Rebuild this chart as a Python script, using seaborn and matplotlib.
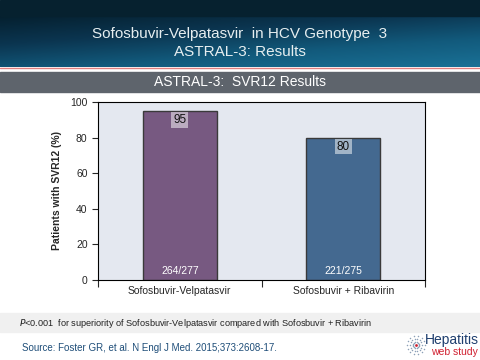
import matplotlib
matplotlib.use("Agg")
import matplotlib.pyplot as plt
import seaborn as sns
import numpy as np
import pandas as pd

# data
regimens = ["Sofosbuvir-Velpatasvir", "Sofosbuvir + Ribavirin"]
svr12 = [95, 80]
counts = ["264/277", "221/275"]
bar_colors = ["#7A5288", "#37699D"]

df = pd.DataFrame({"Regimen": regimens, "SVR12": svr12})

sns.set_style("white")
plt.rcParams["font.family"] = ["Liberation Sans", "DejaVu Sans"]

fig = plt.figure(figsize=(4.8, 3.6), dpi=100)

# background / header
bg = fig.add_axes([0, 0, 1, 1])
bg.set_xlim(0, 480)
bg.set_ylim(360, 0)
bg.axis("off")
hdr = np.linspace(0, 1, 100).reshape(-1, 1) * 0.6 + np.linspace(0, 1, 200).reshape(1, -1) * 0.4
bg.imshow(hdr, cmap=matplotlib.colors.LinearSegmentedColormap.from_list(
    "hdr", ["#05202F", "#0B3550", "#125A7C", "#1A7196"]), extent=[0, 480, 67, 16], aspect="auto")
bg.add_patch(plt.Rectangle((0, 0), 480, 16, color="#06212F"))
bg.plot([0, 480], [68, 68], color="#E08080", lw=1)
bg.add_patch(plt.Rectangle((0, 72), 480, 20, color="#5E646C"))
bg.add_patch(plt.Rectangle((0, 313), 480, 19, color="#F0F0F0"))
bg.text(240, 34, "Sofosbuvir-Velpatasvir  in HCV Genotype  3", color="#E6EEF0", fontsize=11, ha="center", va="center")
bg.text(240, 52, "ASTRAL-3: Results", color="#E6EEF0", fontsize=11, ha="center", va="center")
bg.text(240, 82, "ASTRAL-3:  SVR12 Results", color="white", fontsize=10, ha="center", va="center")
bg.text(19, 323, "$\\it{P}$<0.001  for superiority of Sofosbuvir-Velpatasvir compared with Sofosbuvir + Ribavirin",
        color="#222222", fontsize=6.6, ha="left", va="center")
bg.text(22, 348, "Source: Foster GR, et al. N Engl J Med. 2015;373:2608-17.",
        color="#1F4E79", fontsize=7, ha="left", va="center")
bg.text(425, 340, "Hepatitis", color="#1F3F6F", fontsize=10, ha="left", va="center")
bg.text(431, 352, "web study", color="#D02030", fontsize=7.5, ha="left", va="center")
ang = np.linspace(0, 2 * np.pi, 14, endpoint=False)
for r in [3, 6, 9]:
    bg.scatter(416 + r * np.cos(ang), 345 + r * np.sin(ang), s=1.2, color="#8CA0B8", lw=0)
bg.scatter([416], [345], s=4, color="#D02030", lw=0)

# chart
ax = fig.add_axes([98 / 480, 1 - 280 / 360, 327 / 480, 178 / 360])
ax.set_facecolor("#E4E8F0")
sns.barplot(data=df, x="Regimen", y="SVR12", hue="Regimen", palette=bar_colors,
            width=0.45, edgecolor="#3A3A3A", linewidth=1, legend=False, ax=ax)
ax.set_ylim(0, 100)
ax.set_yticks(range(0, 101, 20))
ax.set_xlim(-0.5, 1.5)
ax.set_xticks([-0.5, 0.5, 1.5], minor=False)
ax.set_xticklabels([])
ax.set_xticks([0, 1], minor=True)
ax.set_xticklabels(regimens, minor=True, fontsize=7.5)
ax.tick_params(axis="x", which="major", length=5, direction="out", bottom=True, width=0.8)
ax.tick_params(axis="x", which="minor", length=0, pad=4)
ax.tick_params(axis="y", length=4, direction="out", left=True, labelsize=7.5, width=0.8)
ax.set_xlabel("")
ax.set_ylabel("Patients with SVR12 (%)", fontsize=7.5, fontweight="bold", labelpad=6)
for s in ax.spines.values():
    s.set_color("black")
    s.set_linewidth(0.8)

for i, (v, c) in enumerate(zip(svr12, counts)):
    ax.text(i, v - 5, str(v), ha="center", va="center", fontsize=8.5, color="#111111",
            bbox=dict(boxstyle="square,pad=0.15", facecolor="white", alpha=0.5, edgecolor="none"))
    ax.text(i, 5, c, ha="center", va="center", fontsize=7.5, color="white")

fig.savefig("out.png", dpi=100)
